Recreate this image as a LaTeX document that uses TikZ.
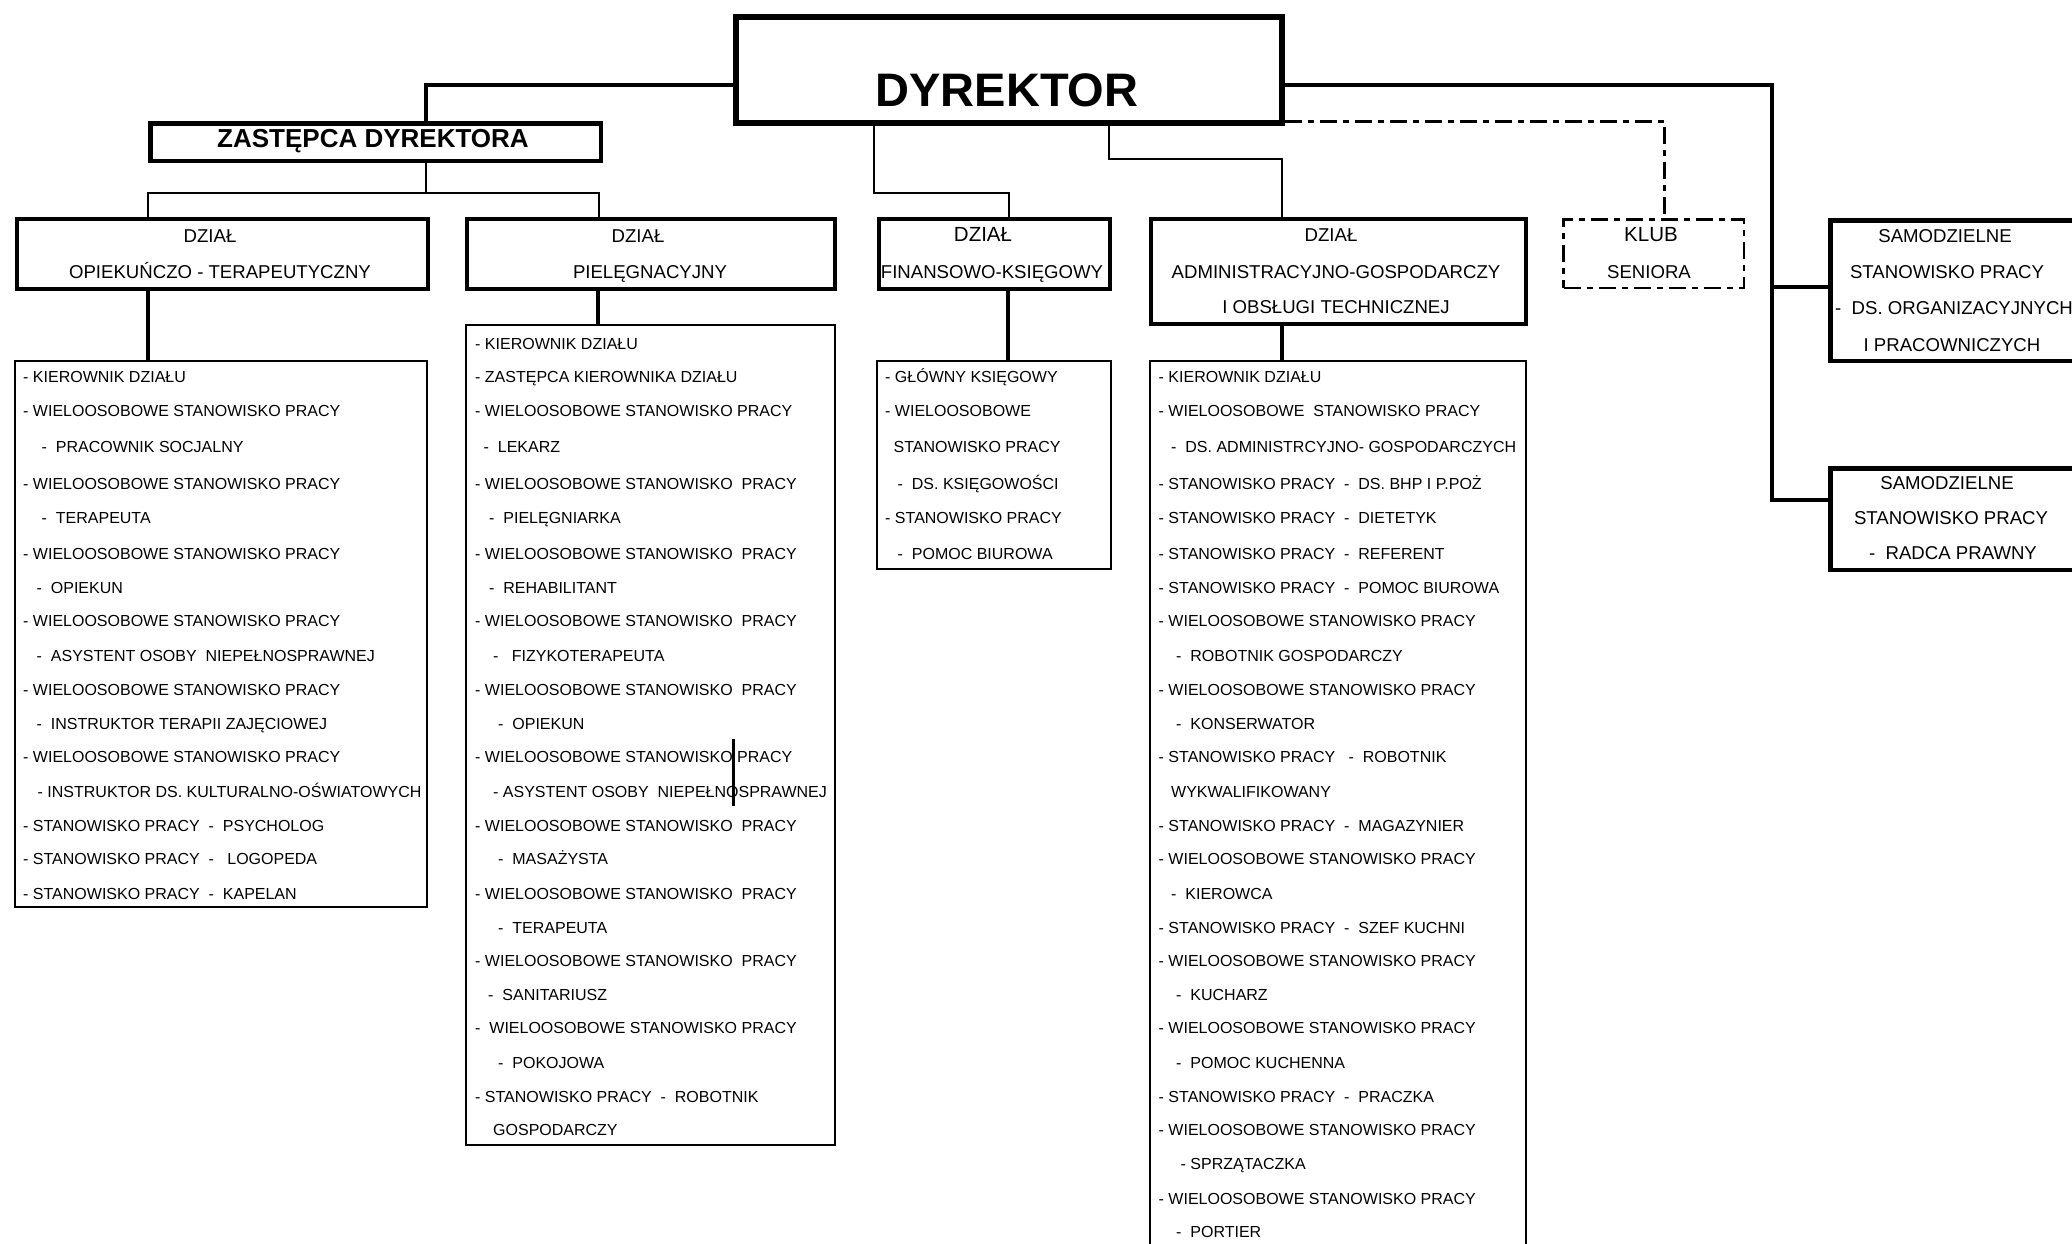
\documentclass[tikz,border=0pt]{standalone}
\usepackage{fontspec}
\setmainfont{Liberation Sans}
\begin{document}
\begin{tikzpicture}[x=1pt,y=-1pt,
  hbox/.style={draw, line width=4pt, inner sep=0pt, anchor=north west},
  lbox/.style={draw, line width=2pt, inner sep=0pt, anchor=north west},
  thinconn/.style={line width=2pt},
  thickconn/.style={line width=4.5pt},
  listconn/.style={line width=4pt},
  klubdash/.style={line width=2.2pt, dash pattern=on 17pt off 6pt on 6pt off 6pt},
  htxt/.style={font=\fontsize{18.6}{22}\selectfont, inner sep=0pt, anchor=base},
  ltxt/.style={font=\fontsize{16}{19}\selectfont, inner sep=0pt, anchor=base west}]
\useasboundingbox (0,0) rectangle (2072,1244);
\fill[white] (0,0) rectangle (2072,1244);
\clip (0,0) rectangle (2072,1244);
\def\rowY{{349.3,382.8,416.7,452.3,489.3,523.7,559.4,593.7,626.8,661.1,695.5,729.8,762.9,797.2,831.6,864.6,899.0,933.3,966.4,1000.7,1033.7,1068.1,1102.5,1135.5,1169.8,1204.2,1237.8}}

% ---- header boxes ----
\node[hbox, line width=6pt, minimum width=546pt, minimum height=106pt] (DIR) at (733,14) {};
\node[font=\fontsize{47}{50}\selectfont\bfseries, inner sep=0pt, anchor=base] (DIRt) at (1007,106.5) {DYREKTOR};
\node[hbox, line width=4.5pt, minimum width=450.5pt, minimum height=37.5pt] (ZAST) at (148.25,121.25) {};
\node[font=\fontsize{26}{30}\selectfont\bfseries, inner sep=0pt, anchor=base] (ZASTt) at (373,147.5) {ZASTĘPCA DYREKTORA};

\node[hbox, minimum width=411pt, minimum height=69.5pt] (D1) at (15,217) {};
\node[htxt] (D1a) at (210,242.7) {DZIAŁ};
\node[htxt] (D1b) at (220,278.2) {OPIEKUŃCZO - TERAPEUTYCZNY};

\node[hbox, minimum width=368pt, minimum height=69.5pt] (D2) at (465,217) {};
\node[htxt] (D2a) at (638,242.7) {DZIAŁ};
\node[htxt] (D2b) at (650,278.2) {PIELĘGNACYJNY};

\node[hbox, minimum width=231pt, minimum height=69.5pt] (D3) at (877,217) {};
\node[htxt, font=\fontsize{20.5}{24}\selectfont] (D3a) at (983,241.8) {DZIAŁ};
\node[htxt] (D3b) at (992,278) {FINANSOWO-KSIĘGOWY};

\node[hbox, minimum width=375pt, minimum height=105pt] (D4) at (1149,217) {};
\node[htxt] (D4a) at (1331,241.5) {DZIAŁ};
\node[htxt] (D4b) at (1336,278) {ADMINISTRACYJNO-GOSPODARCZY};
\node[htxt] (D4c) at (1336,313.2) {I OBSŁUGI TECHNICZNEJ};

\node[hbox, klubdash, line width=2.5pt, minimum width=180.5pt, minimum height=68.5pt] (KLUB) at (1562.25,218.25) {};
\node[htxt, font=\fontsize{20.5}{24}\selectfont] (KLUBa) at (1651,241.5) {KLUB};
\node[htxt] (KLUBb) at (1649,278) {SENIORA};

\node[hbox, line width=4.5pt, minimum width=269.5pt, minimum height=140.5pt] (S1) at (1828.25,218.25) {};
\node[htxt] (S1a) at (1945,242) {SAMODZIELNE};
\node[htxt] (S1b) at (1947,278.5) {STANOWISKO PRACY};
\node[htxt, anchor=base west] (S1c) at (1835,314.7) {-\ \ DS. ORGANIZACYJNYCH};
\node[htxt] (S1d) at (1952,351) {I PRACOWNICZYCH};

\node[hbox, line width=4.5pt, minimum width=269.5pt, minimum height=101.5pt] (S2) at (1828.25,466.25) {};
\node[htxt] (S2a) at (1947,489.7) {SAMODZIELNE};
\node[htxt] (S2b) at (1951,524.7) {STANOWISKO PRACY};
\node[htxt] (S2c) at (1953,559.7) {-\ \ RADCA PRAWNY};

% ---- list boxes ----
\node[lbox, minimum width=412pt, minimum height=546pt] (L1) at (14,360) {};
\node[lbox, minimum width=369pt, minimum height=820pt] (L2) at (465,324) {};
\node[lbox, minimum width=234pt, minimum height=208pt] (L3) at (876,360) {};
\node[lbox, minimum width=376pt, minimum height=920pt] (L4) at (1149,360) {};

% ---- connector coordinates ----
\coordinate (c1) at (426,85);
\coordinate (c2) at (426,193);
\coordinate (c3) at (147.5,193);
\coordinate (c4) at (598.5,193);
\coordinate (c5) at (874,193);
\coordinate (c6) at (1009,193);
\coordinate (c7) at (1109,159);
\coordinate (c8) at (1282,159);
\coordinate (c9) at (1772,85);
\coordinate (c10) at (1772,500);
\coordinate (c11) at (1772,287);
\coordinate (c12) at (1664.5,121.5);
\coordinate (x1) at (148,0);
\coordinate (x2) at (598,0);
\coordinate (x3) at (1008,0);
\coordinate (x4) at (1282,0);

% ---- connectors ----
\draw[thickconn] (DIR.west |- c1) -- (c1) -- (ZAST.north -| c1);
\draw[thinconn] (ZAST.south -| c2) -- (c2);
\draw[thinconn] (D1.north -| c3) -- (c3) -- (c4) -- (D2.north -| c4);
\draw[thinconn] (DIR.south -| c5) -- (c5) -- (c6) -- (D3.north -| c6);
\draw[thinconn] (DIR.south -| c7) -- (c7) -- (c8) -- (D4.north -| c8);
\draw[thickconn] (DIR.east |- c9) -- (c9) -- (c10) -- (S2.west |- c10);
\draw[thickconn] (c11) -- (S1.west |- c11);
\draw[klubdash] (DIR.east |- c12) -- (c12) -- (KLUB.north -| c12);
\draw[listconn] (D1.south -| x1) -- (L1.north -| x1);
\draw[listconn] (D2.south -| x2) -- (L2.north -| x2);
\draw[listconn] (D3.south -| x3) -- (L3.north -| x3);
\draw[listconn] (D4.south -| x4) -- (L4.north -| x4);

% stray mark inside list 2
\draw[line width=3pt] (733,739) -- (733,806);

% ---- list texts ----
\foreach \t [count=\i] in {
 {- KIEROWNIK DZIAŁU},
 {- WIELOOSOBOWE STANOWISKO PRACY},
 {\hspace*{18.5pt}-\ \ PRACOWNIK SOCJALNY},
 {- WIELOOSOBOWE STANOWISKO PRACY},
 {\hspace*{18.5pt}-\ \ TERAPEUTA},
 {- WIELOOSOBOWE STANOWISKO PRACY},
 {\hspace*{13.5pt}-\ \ OPIEKUN},
 {- WIELOOSOBOWE STANOWISKO PRACY},
 {\hspace*{13.5pt}-\ \ ASYSTENT OSOBY\ \ NIEPEŁNOSPRAWNEJ},
 {- WIELOOSOBOWE STANOWISKO PRACY},
 {\hspace*{13.5pt}-\ \ INSTRUKTOR TERAPII ZAJĘCIOWEJ},
 {- WIELOOSOBOWE STANOWISKO PRACY},
 {\hspace*{14.5pt}- INSTRUKTOR DS. KULTURALNO-OŚWIATOWYCH},
 {- STANOWISKO PRACY\ \ -\ \ PSYCHOLOG},
 {- STANOWISKO PRACY\ \ -\ \ \ LOGOPEDA},
 {- STANOWISKO PRACY\ \ -\ \ KAPELAN}}
 {\pgfmathsetmacro\yy{\rowY[\i]}
  \node[ltxt] (LAt\i) at (23,\yy) {\t};}

\foreach \t [count=\i] in {
 {- KIEROWNIK DZIAŁU},
 {- ZASTĘPCA KIEROWNIKA DZIAŁU},
 {- WIELOOSOBOWE STANOWISKO PRACY},
 {\hspace*{8.5pt}-\ \ LEKARZ},
 {- WIELOOSOBOWE STANOWISKO\ \ PRACY},
 {\hspace*{14pt}-\ \ PIELĘGNIARKA},
 {- WIELOOSOBOWE STANOWISKO\ \ PRACY},
 {\hspace*{14pt}-\ \ REHABILITANT},
 {- WIELOOSOBOWE STANOWISKO\ \ PRACY},
 {\hspace*{18pt}-\ \ \ FIZYKOTERAPEUTA},
 {- WIELOOSOBOWE STANOWISKO\ \ PRACY},
 {\hspace*{23pt}-\ \ OPIEKUN},
 {- WIELOOSOBOWE STANOWISKO PRACY},
 {\hspace*{18pt}- ASYSTENT OSOBY\ \ NIEPEŁNOSPRAWNEJ},
 {- WIELOOSOBOWE STANOWISKO\ \ PRACY},
 {\hspace*{23pt}-\ \ MASAŻYSTA},
 {- WIELOOSOBOWE STANOWISKO\ \ PRACY},
 {\hspace*{23pt}-\ \ TERAPEUTA},
 {- WIELOOSOBOWE STANOWISKO\ \ PRACY},
 {\hspace*{13pt}-\ \ SANITARIUSZ},
 {-\ \ WIELOOSOBOWE STANOWISKO PRACY},
 {\hspace*{23pt}-\ \ POKOJOWA},
 {- STANOWISKO PRACY\ \ -\ \ ROBOTNIK},
 {\hspace*{18pt}GOSPODARCZY}}
 {\pgfmathsetmacro\yy{\rowY[\i-1]}
  \node[ltxt] (LBt\i) at (475,\yy) {\t};}

\foreach \t [count=\i] in {
 {- GŁÓWNY KSIĘGOWY},
 {- WIELOOSOBOWE},
 {\hspace*{8.5pt}STANOWISKO PRACY},
 {\hspace*{12.5pt}-\ \ DS. KSIĘGOWOŚCI},
 {- STANOWISKO PRACY},
 {\hspace*{12.5pt}-\ \ POMOC BIUROWA}}
 {\pgfmathsetmacro\yy{\rowY[\i]}
  \node[ltxt] (LCt\i) at (885,\yy) {\t};}

\foreach \t [count=\i] in {
 {- KIEROWNIK DZIAŁU},
 {- WIELOOSOBOWE\ \ STANOWISKO PRACY},
 {\hspace*{12.5pt}-\ \ DS. ADMINISTRCYJNO- GOSPODARCZYCH},
 {- STANOWISKO PRACY\ \ -\ \ DS. BHP I P.POŻ},
 {- STANOWISKO PRACY\ \ -\ \ DIETETYK},
 {- STANOWISKO PRACY\ \ -\ \ REFERENT},
 {- STANOWISKO PRACY\ \ -\ \ POMOC BIUROWA},
 {- WIELOOSOBOWE STANOWISKO PRACY},
 {\hspace*{17.5pt}-\ \ ROBOTNIK GOSPODARCZY},
 {- WIELOOSOBOWE STANOWISKO PRACY},
 {\hspace*{17.5pt}-\ \ KONSERWATOR},
 {- STANOWISKO PRACY\ \ \ -\ \ ROBOTNIK},
 {\hspace*{12.5pt}WYKWALIFIKOWANY},
 {- STANOWISKO PRACY\ \ -\ \ MAGAZYNIER},
 {- WIELOOSOBOWE STANOWISKO PRACY},
 {\hspace*{12.5pt}-\ \ KIEROWCA},
 {- STANOWISKO PRACY\ \ -\ \ SZEF KUCHNI},
 {- WIELOOSOBOWE STANOWISKO PRACY},
 {\hspace*{17.5pt}-\ \ KUCHARZ},
 {- WIELOOSOBOWE STANOWISKO PRACY},
 {\hspace*{17.5pt}-\ \ POMOC KUCHENNA},
 {- STANOWISKO PRACY\ \ -\ \ PRACZKA},
 {- WIELOOSOBOWE STANOWISKO PRACY},
 {\hspace*{22pt}- SPRZĄTACZKA},
 {- WIELOOSOBOWE STANOWISKO PRACY},
 {\hspace*{17.5pt}-\ \ PORTIER}}
 {\pgfmathsetmacro\yy{\rowY[\i]}
  \node[ltxt] (LDt\i) at (1158.5,\yy) {\t};}
\end{tikzpicture}
\end{document}
